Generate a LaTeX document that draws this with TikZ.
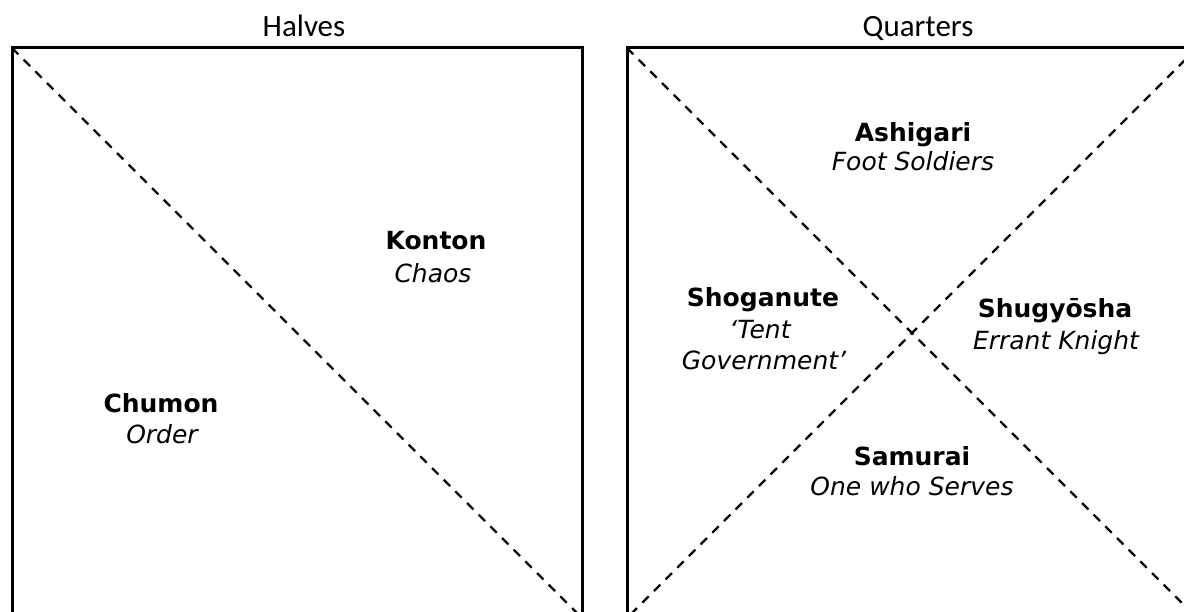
\documentclass[tikz,border=0pt]{standalone}
\usepackage{fontspec}
\setmainfont{DejaVu Sans}
\newfontfamily\titlefont{Carlito}
\begin{document}
\begin{tikzpicture}[x=1pt,y=-1pt,
  boxline/.style={line width=3pt},
  diag/.style={line width=2.2pt,dash pattern=on 9pt off 7.5pt},
  ttl/.style={anchor=base,inner sep=0pt,font=\titlefont\fontsize{31}{31}\selectfont},
  nm/.style={anchor=base,inner sep=0pt,font=\bfseries\fontsize{25}{25}\selectfont},
  tr/.style={anchor=base,inner sep=0pt,font=\itshape\fontsize{25}{25}\selectfont}]
\useasboundingbox (0,0) rectangle (1184,612);
\clip (0,0) rectangle (1184,612);
% corners
\coordinate (LTL) at (12,48);
\coordinate (LTR) at (582,48);
\coordinate (LBL) at (12,618);
\coordinate (LBR) at (582,618);
\coordinate (RTL) at (627,48);
\coordinate (RTR) at (1197,48);
\coordinate (RBL) at (627,618);
\coordinate (RBR) at (1197,618);
% boxes
\draw[boxline] (LBL) -- (LTL) -- (LTR) -- (LBR);
\draw[boxline] (RBL) -- (RTL) -- (RTR) -- (RBR);
% diagonals
\draw[diag] (LTL) -- (LBR);
\draw[diag] (RTL) -- (RBR);
\draw[diag] (RTR) -- (RBL);
% titles
\node[ttl] (halves) at (304,37) {Halves};
\node[ttl] (quarters) at (918,37) {Quarters};
% halves labels
\node[nm] (konton) at (436,250) {Konton};
\node[tr] (chaos) at (433,283) {Chaos};
\node[nm] (chumon) at (161,413) {Chumon};
\node[tr] (order) at (162,443) {Order};
% quarters labels
\node[nm] (ashigari) at (913,142) {Ashigari};
\node[tr] (foot) at (913,171) {Foot Soldiers};
\node[nm] (shoganute) at (763,307) {Shoganute};
\node[tr] (tent) at (760,339) {‘Tent};
\node[tr] (govt) at (764,370) {Government’};
\node[nm] (shugyosha) at (1055,318) {Shugyōsha};
\node[tr] (errant) at (1056,350) {Errant Knight};
\node[nm] (samurai) at (912,465) {Samurai};
\node[tr] (serves) at (912,495) {One who Serves};
\end{tikzpicture}
\end{document}
